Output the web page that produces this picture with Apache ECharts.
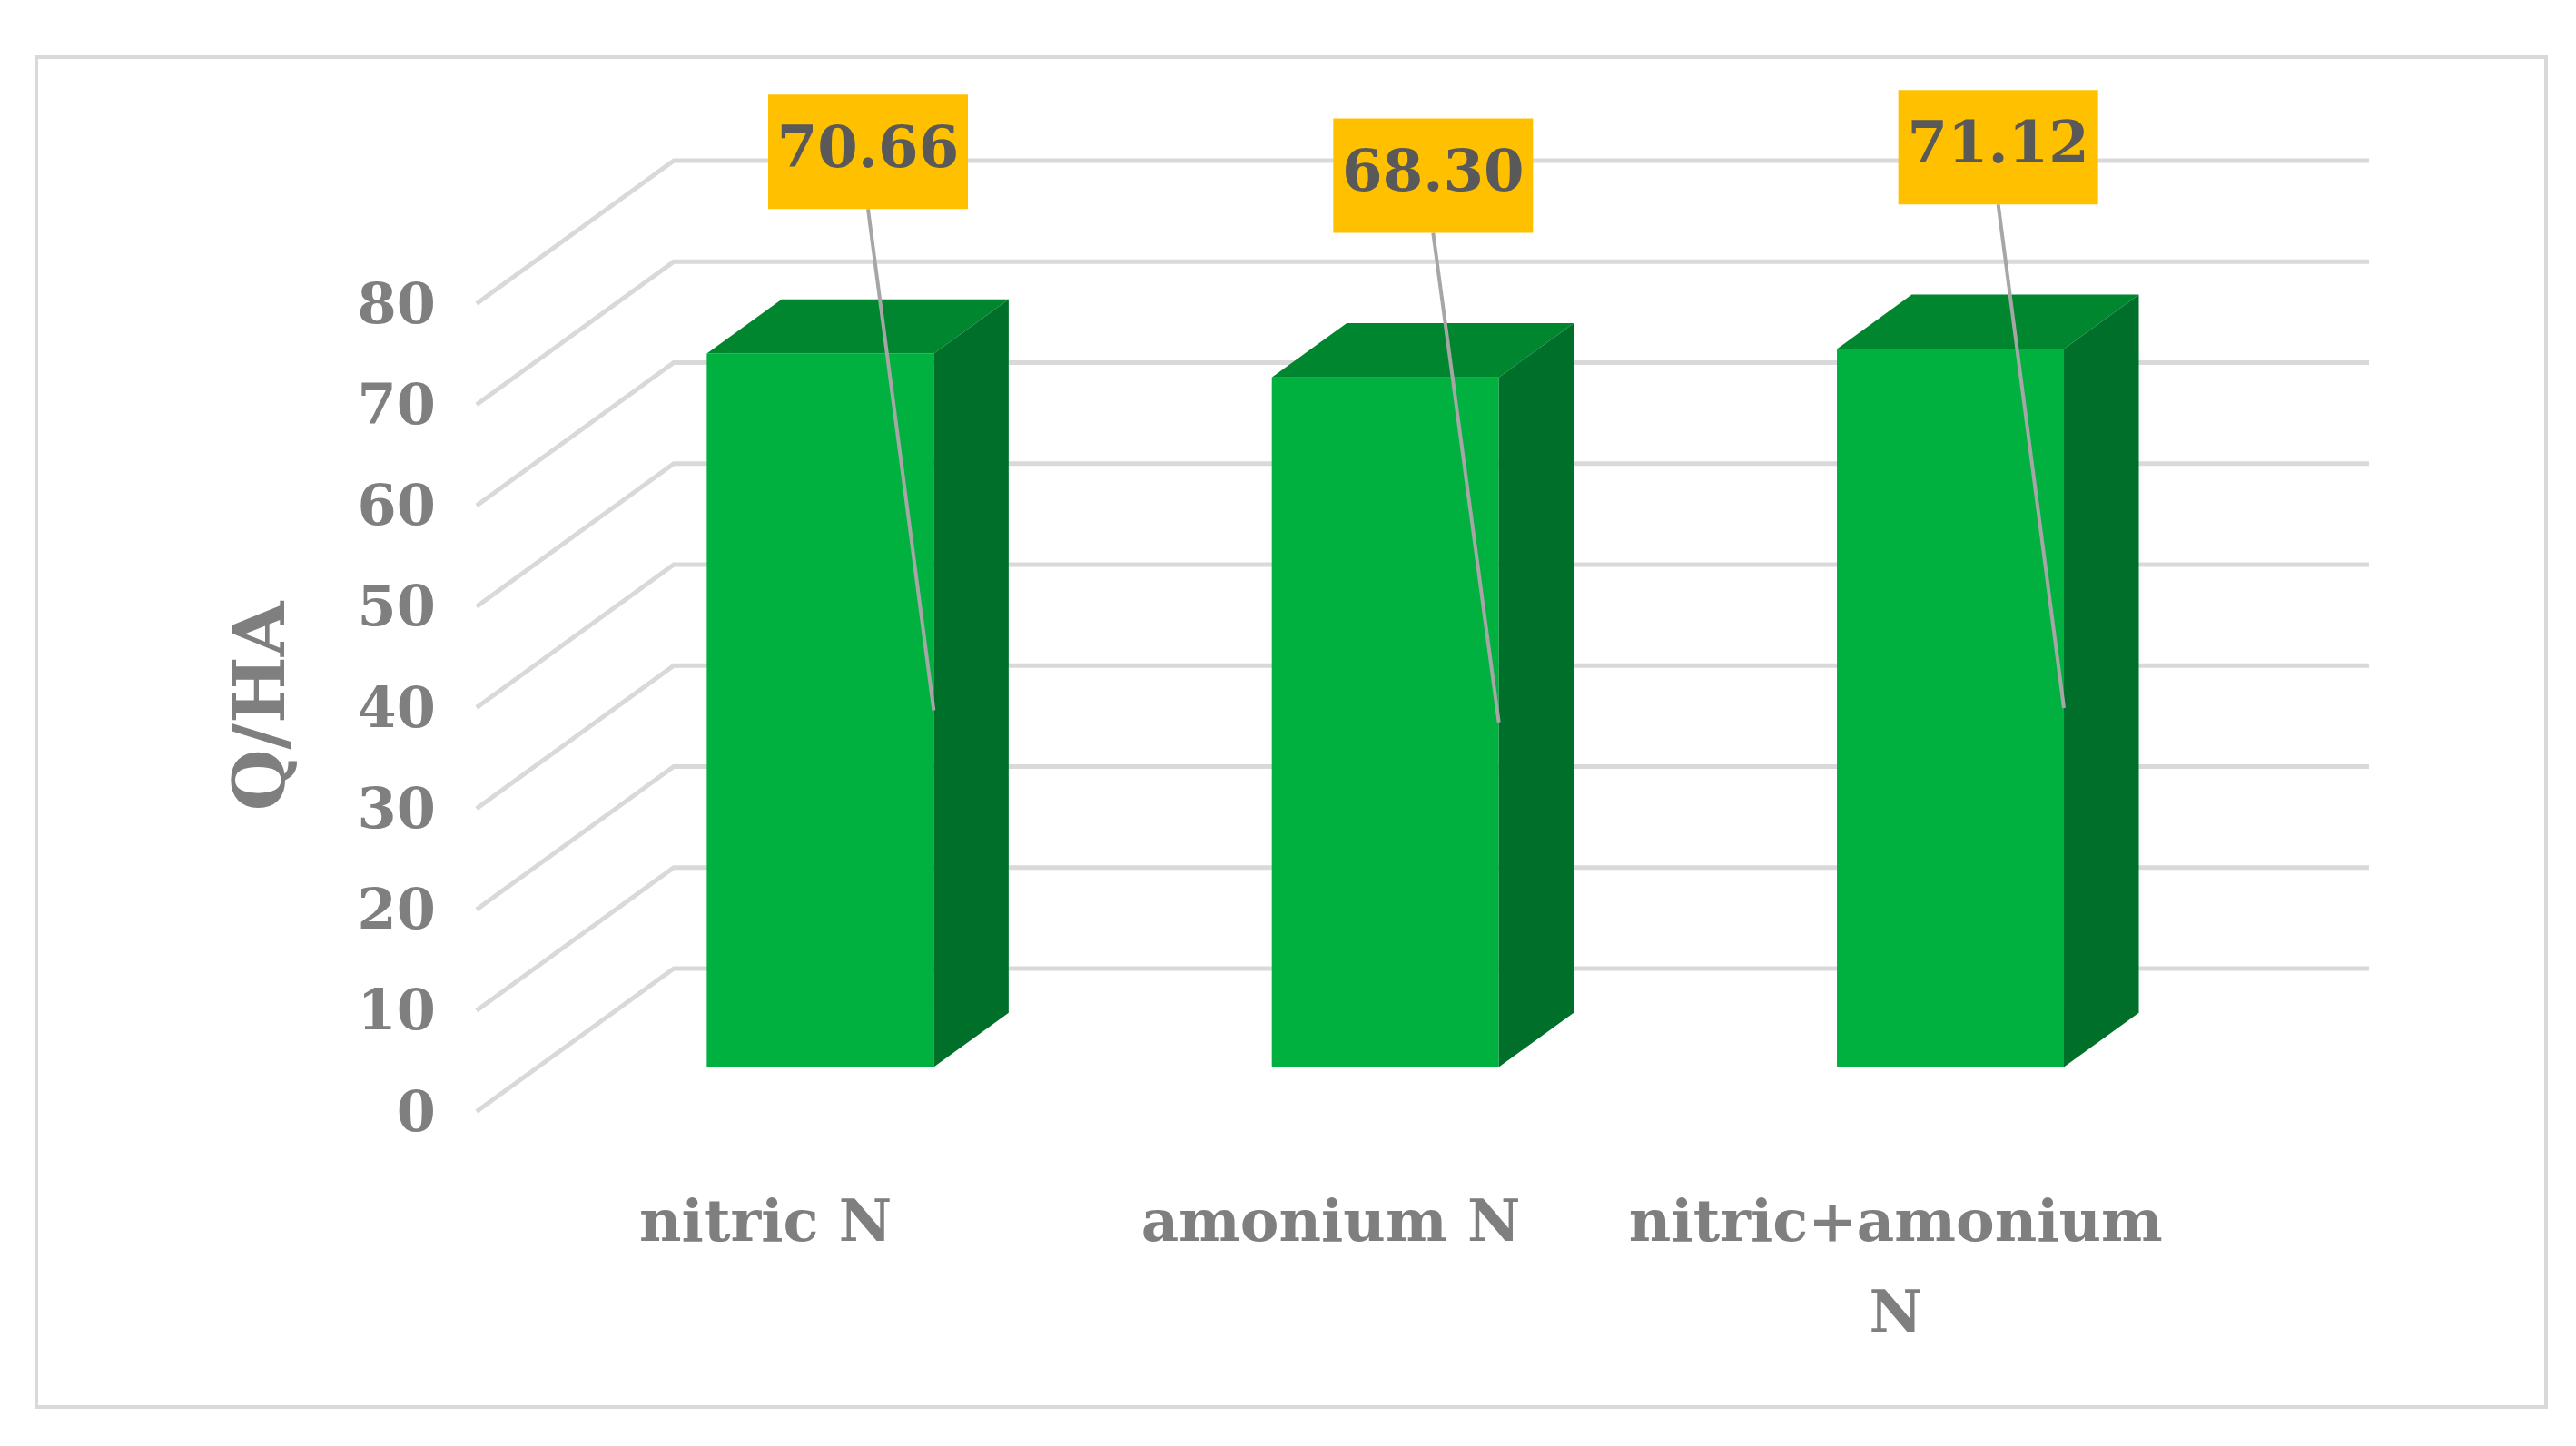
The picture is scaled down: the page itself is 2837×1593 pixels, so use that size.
<!DOCTYPE html>
<html><head><meta charset="utf-8">
<script src="https://cdn.jsdelivr.net/npm/echarts@6/dist/echarts.min.js"></script>
<style>html,body{margin:0;padding:0;background:#fff}#main{width:2837px;height:1593px}</style>
</head><body><div id="main"></div>
<script>
var categories = ['nitric N', 'amonium N', 'nitric+amonium\nN'];
var values = [70.66, 68.30, 71.12];
var labels = ['70.66', '68.30', '71.12'];
var ticks = [0, 10, 20, 30, 40, 50, 60, 70, 80];

var myChart = echarts.init(document.getElementById('main'));
var S = 2837 / 1568;
var DX = -120 * S, DY = 87 * S;      // full floor depth vector
var FONT = '"DejaVu Serif", "Liberation Serif", serif';
var GRAY = '#7f7f7f';

function shift(p, d) { return [p[0] + DX * d, p[1] + DY * d]; }

var option = {
    backgroundColor: '#fff',
    animation: false,
    grid: { left: 742, right: 228, top: 177, bottom: 526 },
    xAxis: { type: 'category', data: categories, show: false },
    yAxis: { type: 'value', min: 0, max: 80, interval: 10, show: false },
    graphic: [
        { type: 'rect', shape: { x: 40, y: 63, width: 2764, height: 1487 },
          style: { fill: 'none', stroke: '#d9d9d9', lineWidth: 4 } },
        { type: 'text', x: 293, y: 778, rotation: Math.PI / 2,
          style: { text: 'Q/HA', font: 'bold 78px ' + FONT, fill: GRAY, align: 'center', verticalAlign: 'middle' } }
    ],
    series: [
        {
            type: 'custom', silent: true, z: 1,
            data: ticks.map(function (t) { return [0, t]; }),
            renderItem: function (params, api) {
                var cs = params.coordSys;
                var y = api.coord([0, api.value(1)])[1];
                var back = [cs.x, y], front = shift(back, 1);
                return { type: 'group', children: [
                    { type: 'polyline', shape: { points: [front, back, [cs.x + cs.width, y]] },
                      style: { stroke: '#d9d9d9', lineWidth: 5, fill: 'none' } },
                    { type: 'text', style: { text: String(api.value(1)), x: front[0] - 45, y: front[1] + 5,
                      font: 'bold 62px ' + FONT, fill: GRAY, align: 'right', verticalAlign: 'middle' } }
                ] };
            }
        },
        {
            type: 'custom', silent: true, z: 2,
            data: values.map(function (v, i) { return [i, v]; }),
            renderItem: function (params, api) {
                var i = api.value(0), v = api.value(1);
                var b = api.coord([i, 0]), t = api.coord([i, v]);
                var hw = 125;
                var df = 0.69, db = 0.31;
                var fbl = shift([b[0] - hw, b[1]], df), fbr = shift([b[0] + hw, b[1]], df);
                var ftl = shift([t[0] - hw, t[1]], df), ftr = shift([t[0] + hw, t[1]], df);
                var btl = shift([t[0] - hw, t[1]], db), btr = shift([t[0] + hw, t[1]], db);
                var bbr = shift([b[0] + hw, b[1]], db);
                var lblX = ftr[0] - 40 * S, lblBottom = ftr[1] - 88 * S;
                var anchor = [ftr[0], ftr[1] + (fbr[1] - ftr[1]) * 0.5];
                var cat = api.coord([i, 0]);
                return { type: 'group', children: [
                    { type: 'polygon', shape: { points: [fbl, fbr, ftr, ftl] }, style: { fill: '#00B140' } },
                    { type: 'polygon', shape: { points: [ftl, ftr, btr, btl] }, style: { fill: '#00862F' } },
                    { type: 'polygon', shape: { points: [fbr, bbr, btr, ftr] }, style: { fill: '#006F2A' } },
                    { type: 'line', shape: { x1: lblX, y1: lblBottom, x2: anchor[0], y2: anchor[1] },
                      style: { stroke: '#a6a6a6', lineWidth: 4 } },
                    { type: 'rect', shape: { x: lblX - 110, y: lblBottom - 126, width: 220, height: 126 },
                      style: { fill: '#FFC000' } },
                    { type: 'text', style: { text: labels[i], x: lblX, y: lblBottom - 63,
                      font: 'bold 64px ' + FONT, fill: '#595959', align: 'center', verticalAlign: 'middle' } },
                    { type: 'text', style: { text: categories[i], x: cat[0] - 210, y: 1300,
                      font: 'bold 64px ' + FONT, fill: GRAY, align: 'center', verticalAlign: 'top', lineHeight: 100 } }
                ] };
            }
        }
    ]
};

myChart.setOption(option);
</script>
</body></html>
